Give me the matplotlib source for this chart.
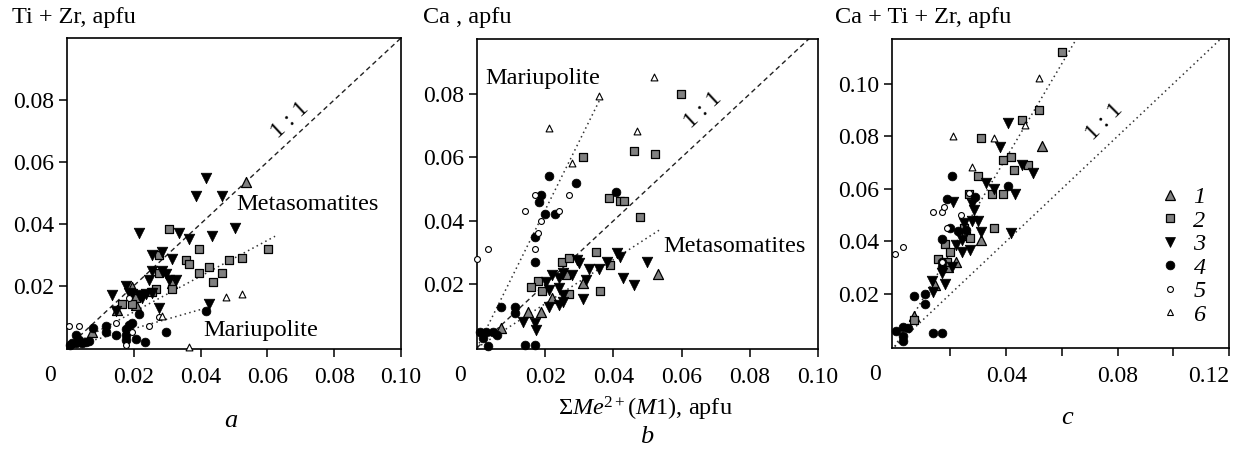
import matplotlib
matplotlib.use("Agg")
import matplotlib.pyplot as plt
from matplotlib.lines import Line2D
import numpy as np

plt.rcParams['font.family'] = ['Liberation Serif', 'DejaVu Serif']
plt.rcParams['mathtext.fontset'] = 'custom'
plt.rcParams['mathtext.rm'] = 'Liberation Serif'
plt.rcParams['mathtext.it'] = 'Liberation Serif:italic'

# ---------------- data ----------------
# Panel a: Ti+Zr vs sum Me2+(M1)
a1_x = [0.0535, 0.0196, 0.0315, 0.0206, 0.0150, 0.0076]
a1_y = [0.0535, 0.0197, 0.0208, 0.0137, 0.0121, 0.0050]
a2_x = [0.0305, 0.0395, 0.0275, 0.0355, 0.0365, 0.0485, 0.0525, 0.0426, 0.0603, 0.0395,
        0.0465, 0.0436, 0.0275, 0.0315, 0.0266, 0.0206, 0.0196, 0.0166, 0.0254]
a2_y = [0.0382, 0.0320, 0.0301, 0.0283, 0.0272, 0.0283, 0.0290, 0.0262, 0.0320, 0.0241,
        0.0241, 0.0212, 0.0241, 0.0189, 0.0191, 0.0161, 0.0140, 0.0140, 0.0181]
a3_x = [0.0415, 0.0385, 0.0463, 0.0217, 0.0335, 0.0365, 0.0433, 0.0503, 0.0285, 0.0255,
        0.0315, 0.0255, 0.0285, 0.0295, 0.0305, 0.0325, 0.0245, 0.0176, 0.0136, 0.0196,
        0.0216, 0.0226, 0.0236, 0.0255, 0.0146, 0.0276, 0.0426, 0.0186]
a3_y = [0.0548, 0.0489, 0.0489, 0.0369, 0.0369, 0.0351, 0.0362, 0.0387, 0.0310, 0.0299,
        0.0288, 0.0248, 0.0248, 0.0238, 0.0218, 0.0218, 0.0220, 0.0199, 0.0170, 0.0175,
        0.0170, 0.0160, 0.0173, 0.0178, 0.0119, 0.0129, 0.0140, 0.0177]
a4_x = [0.0415, 0.0295, 0.0216, 0.0235, 0.0206, 0.0146, 0.0116, 0.0116, 0.0176, 0.0196,
        0.0186, 0.0176, 0.0176, 0.0078, 0.0026, 0.0036, 0.0016, 0.0056, 0.0046, 0.0026,
        0.0008, 0.0066]
a4_y = [0.0119, 0.0050, 0.0110, 0.0019, 0.0029, 0.0040, 0.0069, 0.0051, 0.0061, 0.0079,
        0.0072, 0.0040, 0.0024, 0.0063, 0.0040, 0.0024, 0.0014, 0.0019, 0.0014, 0.0014,
        0.0010, 0.0022]
a5_x = [0.0006, 0.0036, 0.0146, 0.0186, 0.0246, 0.0276, 0.0196, 0.0176]
a5_y = [0.0069, 0.0069, 0.0080, 0.0160, 0.0069, 0.0100, 0.0051, 0.0010]
a6_x = [0.0475, 0.0525, 0.0365, 0.0285]
a6_y = [0.0165, 0.0174, 0.0002, 0.0103]

# Panel b: Ca vs sum Me2+(M1)
b1_x = [0.0532, 0.0311, 0.0261, 0.0221, 0.0189, 0.0150, 0.0071]
b1_y = [0.0232, 0.0205, 0.0235, 0.0156, 0.0114, 0.0114, 0.0061]
b2_x = [0.0599, 0.0310, 0.0460, 0.0521, 0.0388, 0.0418, 0.0430, 0.0479, 0.0349, 0.0390,
        0.0249, 0.0271, 0.0180, 0.0159, 0.0190, 0.0261, 0.0271, 0.0360]
b2_y = [0.0800, 0.0602, 0.0621, 0.0610, 0.0471, 0.0461, 0.0461, 0.0411, 0.0301, 0.0261,
        0.0271, 0.0282, 0.0210, 0.0191, 0.0180, 0.0229, 0.0170, 0.0180]
b3_x = [0.0410, 0.0420, 0.0380, 0.0498, 0.0359, 0.0329, 0.0292, 0.0300, 0.0278, 0.0251,
        0.0221, 0.0241, 0.0202, 0.0212, 0.0241, 0.0253, 0.0251, 0.0241, 0.0212, 0.0312,
        0.0429, 0.0461, 0.0135, 0.0170, 0.0174, 0.0320]
b3_y = [0.0298, 0.0287, 0.0269, 0.0269, 0.0248, 0.0248, 0.0277, 0.0266, 0.0229, 0.0237,
        0.0229, 0.0219, 0.0208, 0.0182, 0.0187, 0.0166, 0.0145, 0.0135, 0.0129, 0.0153,
        0.0219, 0.0198, 0.0082, 0.0077, 0.0056, 0.0214]
b4_x = [0.0212, 0.0290, 0.0408, 0.0189, 0.0182, 0.0199, 0.0228, 0.0170, 0.0170, 0.0071,
        0.0111, 0.0111, 0.0140, 0.0170, 0.0008, 0.0027, 0.0047, 0.0018, 0.0032, 0.0060]
b4_y = [0.0541, 0.0520, 0.0492, 0.0481, 0.0460, 0.0421, 0.0421, 0.0350, 0.0271, 0.0129,
        0.0129, 0.0109, 0.0009, 0.0009, 0.0051, 0.0051, 0.0051, 0.0030, 0.0004, 0.0040]
b5_x = [0.0001, 0.0032, 0.0170, 0.0270, 0.0140, 0.0240, 0.0189, 0.0179, 0.0170]
b5_y = [0.0280, 0.0310, 0.0481, 0.0481, 0.0431, 0.0431, 0.0399, 0.0361, 0.0310]
b6_x = [0.0518, 0.0359, 0.0210, 0.0469, 0.0278]
b6_y = [0.0854, 0.0793, 0.0693, 0.0684, 0.0583]

# Panel c: Ca+Ti+Zr vs sum Me2+(M1)
c1_x = [0.0529, 0.0308, 0.0218, 0.0191, 0.0146, 0.0068]
c1_y = [0.0763, 0.0405, 0.0323, 0.0304, 0.0234, 0.0116]
c2_x = [0.0599, 0.0518, 0.0457, 0.0308, 0.0387, 0.0419, 0.0428, 0.0479, 0.0299, 0.0348,
        0.0387, 0.0267, 0.0357, 0.0248, 0.0257, 0.0269, 0.0180, 0.0197, 0.0156, 0.0186,
        0.0069]
c2_y = [0.1119, 0.0900, 0.0862, 0.0792, 0.0710, 0.0720, 0.0671, 0.0690, 0.0650, 0.0580,
        0.0580, 0.0580, 0.0450, 0.0450, 0.0421, 0.0412, 0.0389, 0.0361, 0.0332, 0.0321,
        0.0101]
c3_x = [0.0407, 0.0377, 0.0455, 0.0498, 0.0327, 0.0355, 0.0430, 0.0209, 0.0279, 0.0285,
        0.0278, 0.0299, 0.0311, 0.0248, 0.0240, 0.0221, 0.0240, 0.0269, 0.0419, 0.0132,
        0.0138, 0.0180, 0.0168, 0.0207]
c3_y = [0.0849, 0.0760, 0.0690, 0.0659, 0.0621, 0.0598, 0.0579, 0.0551, 0.0542, 0.0519,
        0.0479, 0.0479, 0.0435, 0.0471, 0.0405, 0.0386, 0.0361, 0.0367, 0.0431, 0.0249,
        0.0209, 0.0237, 0.0279, 0.0304]
c4_x = [0.0206, 0.0408, 0.0187, 0.0287, 0.0168, 0.0197, 0.0227, 0.0255, 0.0168, 0.0168,
        0.0068, 0.0108, 0.0108, 0.0138, 0.0169, 0.0006, 0.0028, 0.0048, 0.0030, 0.0028]
c4_y = [0.0650, 0.0612, 0.0561, 0.0570, 0.0409, 0.0450, 0.0440, 0.0443, 0.0304, 0.0323,
        0.0192, 0.0200, 0.0162, 0.0051, 0.0051, 0.0060, 0.0073, 0.0069, 0.0019, 0.0041]
c5_x = [0.0000, 0.0028, 0.0138, 0.0168, 0.0177, 0.0237, 0.0267, 0.0186, 0.0168]
c5_y = [0.0351, 0.0380, 0.0511, 0.0511, 0.0532, 0.0500, 0.0583, 0.0450, 0.0321]
c6_x = [0.0517, 0.0469, 0.0209, 0.0358, 0.0278]
c6_y = [0.1022, 0.0843, 0.0802, 0.0792, 0.0684]

# trend lines (end points)
a_line11 = ([0, 0.10], [0, 0.10])
a_line_meta = ([0, 0.0623], [0, 0.0360])
a_line_mar = ([0, 0.0418], [0, 0.0129])
b_line11 = ([0, 0.10], [0, 0.10])
b_line_mar = ([0, 0.0364], [0, 0.0790])
b_line_meta = ([0, 0.0542], [0, 0.0376])
c_line11 = ([0, 0.12], [0, 0.12])
c_line_steep = ([0, 0.0652], [0, 0.1170])

series_labels = ['1', '2', '3', '4', '5', '6']

# ---------------- styles ----------------
GRAY = '#808080'
styles = {
    '1': dict(marker='^', s=52, facecolors=GRAY, edgecolors='black', linewidths=0.9),
    '2': dict(marker='s', s=38, facecolors=GRAY, edgecolors='black', linewidths=0.9),
    '3': dict(marker='v', s=58, facecolors='black', edgecolors='black', linewidths=0.5),
    '4': dict(marker='o', s=40, facecolors='black', edgecolors='black', linewidths=0.5),
    '5': dict(marker='o', s=18, facecolors='white', edgecolors='black', linewidths=0.8),
    '6': dict(marker='^', s=24, facecolors='white', edgecolors='black', linewidths=0.8),
}
DASH = dict(color='#222222', lw=1.0, linestyle=(0, (3.5, 2.5)))
DOT = dict(color='#333333', lw=1.1, linestyle=(0, (1, 2.2)))

W, H = 1246, 449
fig = plt.figure(figsize=(W / 100, H / 100), dpi=100)

def add_ax(l, r, t, b):
    return fig.add_axes([l / W, (H - b) / H, (r - l) / W, (b - t) / H])

ax_a = add_ax(67, 401, 38, 349)
ax_b = add_ax(477, 818, 39, 349)
ax_c = add_ax(892, 1229, 39, 348)

TICK_FS = 17
TXT_FS = 17.5

def style_ax(ax):
    for sp in ax.spines.values():
        sp.set_linewidth(1.2)
    ax.tick_params(direction='out', length=6, width=1.1, labelsize=TICK_FS,
                   top=False, right=False)
    ax.tick_params(axis='x', pad=7)
    ax.tick_params(axis='y', pad=3)
    ax.annotate('0', xy=(0, 0), xycoords='axes fraction', xytext=(-12.5, -19),
                textcoords='offset points', ha='center', va='center', fontsize=TICK_FS)

def plot_series(ax, xs, ys):
    for lab, x, y in zip(series_labels, xs, ys):
        ax.scatter(x, y, zorder=3, clip_on=False, **styles[lab])

# ----- panel a -----
ax = ax_a
ax.plot(*a_line11, **DASH, zorder=2)
ax.plot(*a_line_meta, **DOT, zorder=2)
ax.plot(*a_line_mar, **DOT, zorder=2)
plot_series(ax, [a1_x, a2_x, a3_x, a4_x, a5_x, a6_x], [a1_y, a2_y, a3_y, a4_y, a5_y, a6_y])
ax.set_xlim(0, 0.10)
ax.set_ylim(-0.0004, 0.10)
ax.set_xticks([0.02, 0.04, 0.06, 0.08, 0.10])
ax.set_xticklabels(['0.02', '0.04', '0.06', '0.08', '0.10'])
ax.set_yticks([0.02, 0.04, 0.06, 0.08])
ax.set_yticklabels(['0.02', '0.04', '0.06', '0.08'])
style_ax(ax)
ax.text(0.0508, 0.0464, 'Metasomatites', fontsize=TXT_FS, ha='left', va='center')
ax.text(0.0408, 0.0057, 'Mariupolite', fontsize=TXT_FS, ha='left', va='center')
ax.text(0.0668, 0.0735, '1 : 1', fontsize=TXT_FS, ha='center', va='center', rotation=43)

# ----- panel b -----
ax = ax_b
ax.plot(*b_line11, **DASH, zorder=2)
ax.plot(*b_line_mar, **DOT, zorder=2)
ax.plot(*b_line_meta, **DOT, zorder=2)
plot_series(ax, [b1_x, b2_x, b3_x, b4_x, b5_x, b6_x], [b1_y, b2_y, b3_y, b4_y, b5_y, b6_y])
ax.set_xlim(0, 0.10)
ax.set_ylim(-0.0004, 0.0973)
ax.set_xticks([0.02, 0.04, 0.06, 0.08, 0.10])
ax.set_xticklabels(['0.02', '0.04', '0.06', '0.08', '0.10'])
ax.set_yticks([0.02, 0.04, 0.06, 0.08])
ax.set_yticklabels(['0.02', '0.04', '0.06', '0.08'])
style_ax(ax)
ax.text(0.0024, 0.0849, 'Mariupolite', fontsize=TXT_FS, ha='left', va='center')
ax.text(0.0545, 0.0318, 'Metasomatites', fontsize=TXT_FS, ha='left', va='center')
ax.text(0.0663, 0.0749, '1 : 1', fontsize=TXT_FS, ha='center', va='center', rotation=43)

# ----- panel c -----
ax = ax_c
ax.plot(*c_line11, **DOT, zorder=2)
ax.plot(*c_line_steep, **DOT, zorder=2)
plot_series(ax, [c1_x, c2_x, c3_x, c4_x, c5_x, c6_x], [c1_y, c2_y, c3_y, c4_y, c5_y, c6_y])
ax.set_xlim(-0.001, 0.12)
ax.set_ylim(-0.0006, 0.117)
ax.set_xticks([0.02, 0.04, 0.06, 0.08, 0.10, 0.12])
ax.set_xticklabels(['', '0.04', '', '0.08', '', '0.12'])
ax.set_yticks([0.02, 0.04, 0.06, 0.08, 0.10])
ax.set_yticklabels(['0.02', '0.04', '0.06', '0.08', '0.10'])
style_ax(ax)
ax.get_xticklabels()[-1].set_ha('right')
ax.text(0.0754, 0.0855, '1 : 1', fontsize=TXT_FS, ha='center', va='center', rotation=45)

handles = []
for lab in series_labels:
    st = styles[lab]
    handles.append(Line2D([], [], linestyle='none', marker=st['marker'],
                          markersize=np.sqrt(st['s']), markerfacecolor=st['facecolors'],
                          markeredgecolor=st['edgecolors'], markeredgewidth=st['linewidths']))
leg = ax.legend(handles, series_labels, loc='center left', bbox_to_anchor=(0.79, 0.298),
                frameon=False, handlelength=1.0, handletextpad=0.45, labelspacing=0.06,
                borderpad=0, borderaxespad=0,
                prop=dict(family='Liberation Serif', style='italic', size=TXT_FS))

# titles, x label and panel letters
fig.text(12 / W, 1 - 18 / H, 'Ti + Zr, apfu', fontsize=TXT_FS, ha='left', va='center')
fig.text(423 / W, 1 - 18 / H, 'Ca , apfu', fontsize=TXT_FS, ha='left', va='center')
fig.text(835 / W, 1 - 18 / H, 'Ca + Ti + Zr, apfu', fontsize=TXT_FS, ha='left', va='center')
fig.text(645 / W, 1 - 409 / H, r'$\Sigma\mathit{Me}^{2+}(\mathit{M}1)$, apfu',
         fontsize=TXT_FS, ha='center', va='center')
fig.text(231 / W, 1 - 421 / H, 'a', fontsize=19, style='italic', ha='center', va='center')
fig.text(647 / W, 1 - 437 / H, 'b', fontsize=19, style='italic', ha='center', va='center')
fig.text(1067 / W, 1 - 418 / H, 'c', fontsize=19, style='italic', ha='center', va='center')

fig.savefig('out.png', dpi=100)
